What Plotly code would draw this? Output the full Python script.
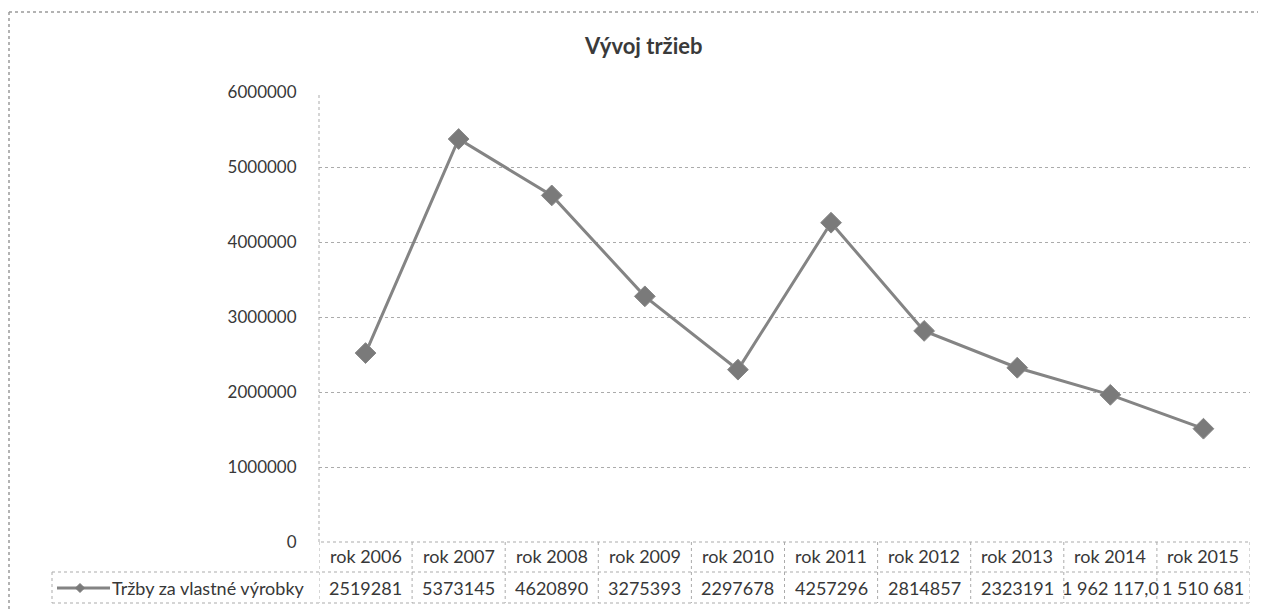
import plotly.graph_objects as go

categories = ["rok 2006", "rok 2007", "rok 2008", "rok 2009", "rok 2010",
              "rok 2011", "rok 2012", "rok 2013", "rok 2014", "rok 2015"]
values = [2519281, 5373145, 4620890, 3275393, 2297678,
          4257296, 2814857, 2323191, 1962117.0, 1510681]
value_labels = ["2519281", "5373145", "4620890", "3275393", "2297678",
                "4257296", "2814857", "2323191", "1 962 117,0", "1 510 681"]
series_name = "Tržby za vlastné výrobky"
title_text = "Vývoj tržieb"
y_ticks = [0, 1000000, 2000000, 3000000, 4000000, 5000000, 6000000]

O = 8  # page body margin offset
W, H = 1266 - O, 609 - O
L, R, T, B = 319 - O, 1250 - O, 92 - O, 542 - O
pw, ph = R - L, B - T

def px(xp):
    return (xp - O - L) / pw

def py(yp):
    return (B - (yp - O)) / ph

FONT = "Lato, Carlito, Calibri, sans-serif"
TXT = "#383838"
GRID = "#ababab"
LINE = "#848484"

fig = go.Figure()
fig.add_trace(go.Scatter(
    x=list(range(len(categories))), y=values, mode="lines+markers",
    name=series_name,
    line=dict(color=LINE, width=3),
    marker=dict(symbol="diamond", size=16, color="#7a7a7a",
                line=dict(color="#888888", width=1)),
    showlegend=False, cliponaxis=False,
))

shapes = []
n = len(categories)
dl = dict(color=GRID, width=1, dash="dot")
# plot area left border
shapes.append(dict(type="line", xref="paper", yref="paper", x0=0, x1=0, y0=0, y1=1,
                   line=dl))
# table horizontal lines
for yp, x0 in [(542, 321), (572, 52), (603, 52)]:
    shapes.append(dict(type="line", xref="paper", yref="paper",
                       x0=px(x0), x1=1, y0=py(yp), y1=py(yp), line=dl))
# table vertical lines
for i in range(n + 1):
    shapes.append(dict(type="line", xref="x", yref="paper",
                       x0=i - 0.5, x1=i - 0.5, y0=py(542), y1=py(603), line=dl))
shapes.append(dict(type="line", xref="paper", yref="paper",
                   x0=px(52), x1=px(52), y0=py(572), y1=py(603), line=dl))
# outer chart border
bx = O + 1
shapes.append(dict(type="line", xref="paper", yref="paper",
                   x0=px(bx), x1=px(bx), y0=py(12), y1=py(609),
                   line=dict(color="#9a9a9a", width=1.5, dash="dot")))
shapes.append(dict(type="line", xref="paper", yref="paper",
                   x0=px(bx), x1=px(1266), y0=py(12), y1=py(12),
                   line=dict(color="#9a9a9a", width=1.5, dash="dot")))
# legend key in table
ly = 588
shapes.append(dict(type="line", xref="paper", yref="paper",
                   x0=px(57), x1=px(110), y0=py(ly), y1=py(ly),
                   line=dict(color=LINE, width=3)))
cx, d = 80, 4.5
path = (f"M {px(cx)} {py(ly - d)} L {px(cx + d)} {py(ly)} "
        f"L {px(cx)} {py(ly + d)} L {px(cx - d)} {py(ly)} Z")
shapes.append(dict(type="path", xref="paper", yref="paper", path=path,
                   fillcolor="#7a7a7a", line=dict(color="#7a7a7a", width=1)))

annotations = []
tf = dict(family=FONT, size=18, color=TXT)
for i, c in enumerate(categories):
    annotations.append(dict(xref="x", yref="paper", x=i, y=py(556), text=c,
                            showarrow=False, xanchor="center", yanchor="middle",
                            font=tf))
for i, v in enumerate(value_labels):
    annotations.append(dict(xref="x", yref="paper", x=i, y=py(588), text=v,
                            showarrow=False, xanchor="center", yanchor="middle",
                            font=tf))
annotations.append(dict(xref="paper", yref="paper", x=px(110), y=py(588),
                        text=series_name, showarrow=False, xanchor="left",
                        yanchor="middle", font=tf))
# title
annotations.append(dict(xref="paper", yref="paper", x=px(643), y=py(45),
                        text="<b>" + title_text + "</b>", showarrow=False,
                        xanchor="center", yanchor="middle",
                        font=dict(family=FONT, size=22, color="#3a3a3a")))

fig.update_layout(
    width=W, height=H, autosize=False,
    margin=dict(l=L, r=W - R, t=T, b=H - B, pad=0),
    paper_bgcolor="white", plot_bgcolor="white",
    xaxis=dict(range=[-0.5, n - 0.5], showticklabels=False, showgrid=False,
               zeroline=False, showline=False, fixedrange=True),
    yaxis=dict(range=[0, 6000000], tickvals=y_ticks,
               ticktext=[str(t) for t in y_ticks],
               showgrid=True, gridcolor=GRID, griddash="dot", gridwidth=1,
               zeroline=False, showline=False, ticks="outside", ticklen=18,
               tickcolor="rgba(0,0,0,0)",
               tickfont=dict(family=FONT, size=17, color=TXT)),
    shapes=shapes, annotations=annotations,
)

fig.write_html("out.html")
